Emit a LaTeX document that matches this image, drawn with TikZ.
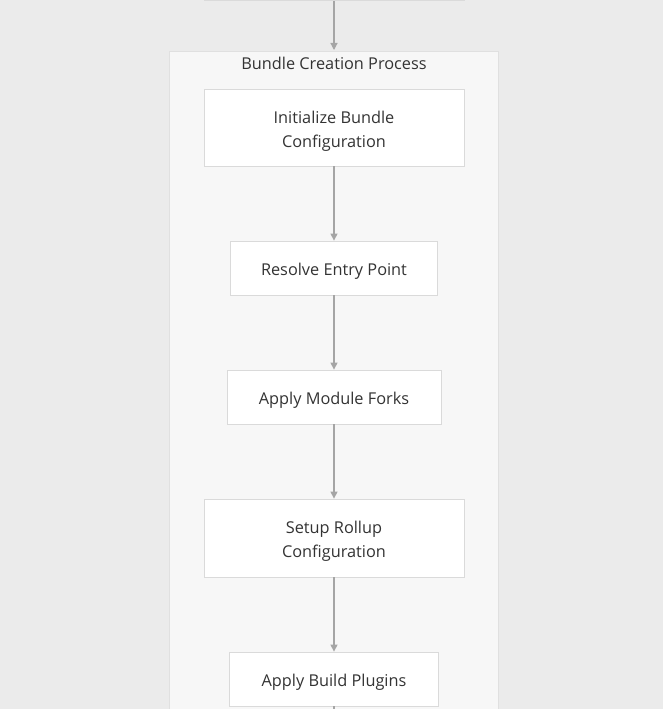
\documentclass[tikz,border=0pt]{standalone}
\usepackage{fontspec}
\setmainfont{Open Sans}
\usetikzlibrary{arrows.meta}
\definecolor{bgc}{RGB}{235,235,235}
\definecolor{clfill}{RGB}{247,247,247}
\definecolor{clline}{RGB}{224,224,224}
\definecolor{ndline}{RGB}{218,218,218}
\definecolor{arr}{RGB}{165,165,165}
\definecolor{txt}{RGB}{51,51,51}
\newcommand{\dn}[1]{\raisebox{-3pt}[\height][\depth]{\begin{tabular}{@{}c@{}}#1\end{tabular}}}
\begin{document}
\begin{tikzpicture}[x=1pt,y=-1pt,
  box/.style={draw=ndline,fill=white,line width=0.8pt,inner sep=0pt,text=txt,
     font=\fontsize{16.3}{24}\selectfont,align=center},
  flow/.style={draw=arr,line width=1.2pt,-{Triangle[length=7pt,width=7pt]}}]
\useasboundingbox (0,0) rectangle (663,709);
\fill[bgc] (0,0) rectangle (663,709);
\fill[clfill,draw=clline,line width=0.8pt] (169,51) rectangle (498,720);
\node[text=txt,font=\fontsize{16.3}{18}\selectfont] (title) at (334,63) {Bundle Creation Process};
\node[box,minimum width=260pt,minimum height=60pt,anchor=south] (n0) at (334,1) {};
\node[box,minimum width=260pt,minimum height=77pt] (n1) at (334,127.5) {\dn{Initialize Bundle\\Configuration}};
\node[box,minimum width=207pt,minimum height=54pt] (n2) at (334,268) {\dn{Resolve Entry Point}};
\node[box,minimum width=214pt,minimum height=54pt] (n3) at (334,397) {\dn{Apply Module Forks}};
\node[box,minimum width=260pt,minimum height=78pt] (n4) at (334,538) {\dn{Setup Rollup\\Configuration}};
\node[box,minimum width=209pt,minimum height=54pt] (n5) at (334,679) {\dn{Apply Build Plugins}};
\coordinate (cltop) at (334,50);
\coordinate (bot) at (334,712);
\draw[flow] (n0.south) -- (cltop);
\draw[flow] (n1) -- (n2);
\draw[flow] (n2) -- (n3);
\draw[flow] (n3) -- (n4);
\draw[flow] (n4) -- (n5);
\draw[draw=arr,line width=1.2pt] (n5.south) -- (bot);
\end{tikzpicture}
\end{document}
